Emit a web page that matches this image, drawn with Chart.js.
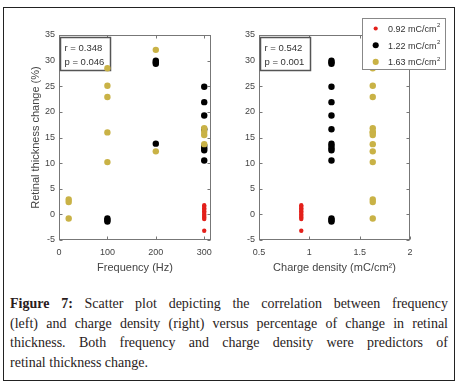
<!DOCTYPE html>
<html><head><meta charset="utf-8">
<script src="https://cdn.jsdelivr.net/npm/chart.js@4"></script>
<style>
html,body{margin:0;padding:0;background:#fff;width:462px;height:384px;overflow:hidden;}
#frame{position:absolute;left:3px;top:7px;width:452px;height:374px;border:1.5px solid #222;box-sizing:border-box;}
#c1{position:absolute;left:0;top:0;}
#c2{position:absolute;left:230px;top:0;}
#cap{position:absolute;left:10px;top:294px;width:438px;font-family:"Liberation Serif","Times New Roman",serif;font-size:14px;line-height:19.7px;color:#2a1c1c;}
.ln{white-space:nowrap;text-align:justify;text-align-last:justify;}
.last{white-space:nowrap;}
</style></head>
<body>
<div id="frame"></div>
<canvas id="c1" width="230" height="290"></canvas>
<canvas id="c2" width="226" height="290"></canvas>
<div id="cap">
<div class="ln"><b>Figure 7:</b> Scatter plot depicting the correlation between frequency</div>
<div class="ln">(left) and charge density (right) versus percentage of change in retinal</div>
<div class="ln">thickness. Both frequency and charge density were predictors of</div>
<div class="last">retinal thickness change.</div>
</div>
<script>
// ---- data ----
const seriesNames = ['0.92 mC/cm', '1.22 mC/cm', '1.63 mC/cm'];
const chargeDensities = [0.92, 1.22, 1.63];
const redFreq   = [300,300,300,300,300,300,300,300,300,300,300];
const redChange = [1.8,1.5,1.2,0.9,0.6,0.3,0.0,-0.3,-0.6,-0.9,-3.2];
const blackFreq   = [100,100,100,200,200,200,200,300,300,300,300,300,300,300,300];
const blackChange = [-0.8,-1.1,-1.4,30.0,29.7,29.4,13.8,24.9,21.9,19.3,16.6,13.4,12.9,12.5,10.5];
const goldFreq   = [20,20,20,100,100,100,100,100,200,200,300,300,300,300];
const goldChange = [2.9,2.4,-0.8,28.5,25.1,22.9,16.0,10.2,32.1,12.3,16.8,16.1,15.5,13.7];
const freqTicks = [0,100,200,300];
const chargeTicks = [0.5,1,1.5,2];
const changeTicks = [-5,0,5,10,15,20,25,30,35];
const stats1 = ['r = 0.348','p = 0.046'];
const stats2 = ['r = 0.542','p = 0.001'];

const colors = ['#e3201b', '#000000', '#c9b246'];
const radii = [2.2, 3.2, 3.2];

Chart.defaults.font.family = "'Liberation Sans', Arial, sans-serif";

function pts(xs, ys){ return ys.map((v,i)=>({x: xs[i], y: v})); }
function constX(c, ys){ return ys.map(v=>({x:c, y:v})); }

const framePlugin = {
  id: 'frameTicks',
  beforeDatasetsDraw(chart, args, opts){
    const {ctx, chartArea:a, scales:{x,y}} = chart;
    ctx.save();
    ctx.strokeStyle = '#777'; ctx.lineWidth = 1;
    const L=Math.round(a.left)+0.5, R=Math.round(a.right)-0.5, T=Math.round(a.top)+0.5, B=Math.round(a.bottom)-0.5;
    ctx.strokeRect(L, T, R-L, B-T);
    ctx.beginPath();
    x.ticks.forEach(t=>{ const px=Math.round(x.getPixelForValue(t.value))+0.5;
      ctx.moveTo(px,B); ctx.lineTo(px,B-3); ctx.moveTo(px,T); ctx.lineTo(px,T+3); });
    y.ticks.forEach(t=>{ const py=Math.round(y.getPixelForValue(t.value))+0.5;
      ctx.moveTo(L,py); ctx.lineTo(L+3,py); ctx.moveTo(R,py); ctx.lineTo(R-3,py); });
    ctx.stroke();
    // stats box
    const s = opts.stats;
    const bx = a.left+1.5, by = a.top+2.5, bw = 50, bh = 33;
    ctx.fillStyle='#fff'; ctx.fillRect(bx,by,bw,bh);
    ctx.strokeStyle='#555'; ctx.lineWidth=1.5; ctx.strokeRect(bx,by,bw,bh);
    ctx.fillStyle='#333'; ctx.font="9.5px 'Liberation Sans', Arial, sans-serif";
    ctx.textBaseline='middle'; ctx.textAlign='left';
    ctx.fillText(s[0], bx+4, by+10.5);
    ctx.fillText(s[1], bx+4, by+24.5);
    ctx.restore();
  },
  afterDraw(chart, args, opts){
    if(!opts.legend) return;
    const ctx = chart.ctx;
    ctx.save();
    const lx=132.5, ly=18.5, lw=83, lh=51;
    ctx.fillStyle='#fff'; ctx.fillRect(lx,ly,lw,lh);
    ctx.strokeStyle='#888'; ctx.lineWidth=1; ctx.strokeRect(lx,ly,lw,lh);
    ctx.textBaseline='middle'; ctx.textAlign='left';
    seriesNames.forEach((n,i)=>{
      const yy = 28.5 + i*16.7;
      ctx.fillStyle = colors[i];
      ctx.beginPath(); ctx.arc(145.7, yy, radii[i]*0.95, 0, Math.PI*2); ctx.fill();
      ctx.fillStyle='#333'; ctx.font="9px 'Liberation Sans', Arial, sans-serif";
      ctx.fillText(n, 158, yy+1);
      const w = ctx.measureText(n).width;
      ctx.font="6px 'Liberation Sans', Arial, sans-serif";
      ctx.fillText('2', 158+w+0.5, yy-3);
    });
    ctx.restore();
  }
};

function makeOpts(xmin, xmax, xTicks, xTitle, yTitle, padL, padR, yWidth, stats, legend){
  return {
    responsive:false, animation:false,
    layout:{padding:{left:padL, top:35, right:padR, bottom:15}},
    plugins:{legend:{display:false}, tooltip:{enabled:false}, frameTicks:{stats:stats, legend:legend}},
    scales:{
      x:{type:'linear', min:xmin, max:xmax,
         afterBuildTicks:s=>{ s.ticks = xTicks.map(v=>({value:v})); },
         ticks:{padding:7, color:'#444', font:{size:9}, maxRotation:0, autoSkip:false, callback:v=>String(v)},
         grid:{display:false, drawTicks:false}, border:{display:false},
         title:{display:true, text:xTitle, color:'#444', font:{size:11}, padding:0},
         afterFit:s=>{ s.height = 35; }},
      y:{type:'linear', min:-5, max:35,
         afterBuildTicks:s=>{ s.ticks = changeTicks.map(v=>({value:v})); },
         ticks:{padding:4, color:'#444', font:{size:9}, autoSkip:false, callback:v=>String(v)},
         grid:{display:false, drawTicks:false}, border:{display:false},
         title:{display:!!yTitle, text:yTitle||'', color:'#444', font:{size:11}, padding:0},
         afterFit:s=>{ s.width = yWidth; }}
    }
  };
}

function ds(data, i){
  return {data:data, backgroundColor:colors[i], borderWidth:0, pointRadius:radii[i], pointHoverRadius:radii[i]};
}

new Chart(document.getElementById('c1'), {
  type:'scatter',
  data:{datasets:[ ds(pts(goldFreq,goldChange),2), ds(pts(blackFreq,blackChange),1), ds(pts(redFreq,redChange),0) ]},
  options: makeOpts(0, 314, freqTicks, 'Frequency (Hz)', 'Retinal thickness change (%)', 29, 19, 30, stats1, false),
  plugins:[framePlugin]
});

new Chart(document.getElementById('c2'), {
  type:'scatter',
  data:{datasets:[ ds(constX(chargeDensities[2],goldChange),2), ds(constX(chargeDensities[1],blackChange),1), ds(constX(chargeDensities[0],redChange),0) ]},
  options: makeOpts(0.5, 2, chargeTicks, 'Charge density (mC/cm\u00B2)', null, 0, 46, 29, stats2, true),
  plugins:[framePlugin]
});
</script>
</body></html>
